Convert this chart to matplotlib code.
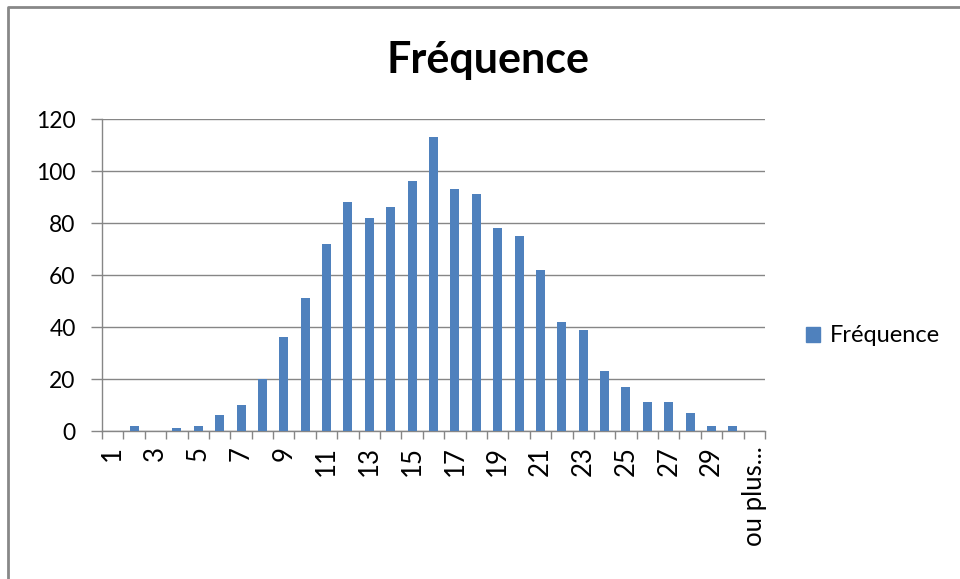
import numpy as np
import matplotlib
matplotlib.use("Agg")
import matplotlib.pyplot as plt
from matplotlib.lines import Line2D
from matplotlib.patches import Patch

plt.rcParams['font.family'] = ['Lato', 'DejaVu Sans']

# data
categories = [str(i) for i in range(1, 31)] + ["ou plus..."]
frequence = [0, 2, 0, 1, 2, 6, 10, 20, 36, 51, 72, 88, 82, 86, 96, 113,
             93, 91, 78, 75, 62, 42, 39, 23, 17, 11, 11, 7, 2, 2, 0]

BAR = '#4F81BD'
GREY = '#868686'

fig = plt.figure(figsize=(9.6, 5.79), dpi=100)
W, H = 960, 579
ax = fig.add_axes([102 / W, 1 - 431 / H, (765 - 102) / W, (431 - 119) / H])

x = np.arange(1, len(categories) + 1)
ax.bar(x, frequence, width=0.42, color=BAR, zorder=3, label="Fréquence")

ax.set_xlim(0.5, len(categories) + 0.5)
ax.set_ylim(0, 120)
ax.set_yticks(range(0, 121, 20))
ax.yaxis.grid(True, color=GREY, lw=1)
ax.set_axisbelow(True)

# labels every second category, ticks at category boundaries
ax.set_xticks(x[::2])
ax.set_xticklabels(categories[::2], rotation=90)
ax.set_xticks(np.arange(0.5, len(categories) + 1, 1), minor=True)
ax.tick_params(axis='x', which='major', length=0, pad=11, labelsize=18.5)
ax.tick_params(axis='x', which='minor', length=6, color=GREY, width=1)
ax.tick_params(axis='y', length=8, color=GREY, width=1, pad=11, labelsize=16.5)

for s in ['top', 'right']:
    ax.spines[s].set_visible(False)
for s in ['left', 'bottom']:
    ax.spines[s].set_color(GREY)
    ax.spines[s].set_linewidth(1)

fig.text(488 / W, 1 - 60 / H, "Fréquence", ha='center', va='center',
         fontsize=31, fontweight='bold')

ax.legend(handles=[Patch(color=BAR, label="Fréquence")],
          loc='center left', bbox_to_anchor=(785 / W, 1 - 336 / H),
          bbox_transform=fig.transFigure, frameon=False, fontsize=17,
          handlelength=0.6, handleheight=0.6, handletextpad=0.4)

# chart area border (only top and left edges are visible)
fig.add_artist(Line2D([8 / W, 8 / W, 1], [0, 1 - 7 / H, 1 - 7 / H],
                      transform=fig.transFigure, color='#888888', lw=2))

plt.savefig("out.png", dpi=100)
